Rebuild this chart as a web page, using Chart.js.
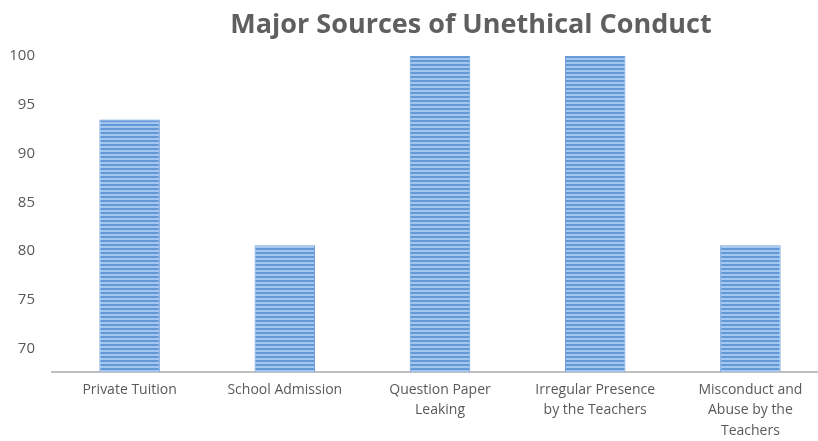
<!DOCTYPE html>
<html>
<head>
<meta charset="utf-8">
<script src="https://cdn.jsdelivr.net/npm/chart.js@4"></script>
<style>
  html, body { margin: 0; padding: 0; background: #fff; overflow: hidden; }
  #wrap { width: 830px; height: 441px; position: relative; }
</style>
</head>
<body>
<div id="wrap"><canvas id="chartSources"></canvas></div>
<script>
// chart data
const categories = [
  "Private Tuition",
  "School Admission",
  ["Question Paper", "Leaking"],
  ["Irregular Presence", "by the Teachers"],
  ["Misconduct and", "Abuse by the", "Teachers"]
];
const percentValues = [93.5, 80.6, 100, 100, 80.6];
const yTickValues = [70, 75, 80, 85, 90, 95, 100];
const chartTitle = "Major Sources of Unethical Conduct";

// striped fill like the excel picture
function stripes() {
  const c = document.createElement('canvas');
  c.width = 4; c.height = 4;
  const g = c.getContext('2d');
  g.fillStyle = '#6499d8'; g.fillRect(0, 0, 4, 2);
  g.fillStyle = '#a3c5ee'; g.fillRect(0, 2, 4, 2);
  return g.createPattern(c, 'repeat');
}

const titlePlugin = {
  id: 'titleText',
  afterDraw(chart) {
    const c = chart.ctx;
    c.save();
    c.font = 'bold 27px "Open Sans", sans-serif';
    c.fillStyle = '#5f5f5f';
    c.textAlign = 'center';
    c.textBaseline = 'alphabetic';
    c.fillText(chartTitle, 471, 33);
    c.restore();
  }
};

const ctx = document.getElementById('chartSources').getContext('2d');
const chartSources = new Chart(ctx, {
  type: 'bar',
  data: {
    labels: categories,
    datasets: [{
      data: percentValues,
      backgroundColor: stripes(),
      borderColor: '#6a9cda',
      borderWidth: 1,
      barPercentage: 0.39,
      categoryPercentage: 1
    }]
  },
  plugins: [titlePlugin],
  options: {
    responsive: true,
    maintainAspectRatio: false,
    animation: false,
    layout: { padding: { top: 56, right: 2, left: 0, bottom: 0 } },
    plugins: { legend: { display: false }, tooltip: { enabled: false }, title: { display: false } },
    scales: {
      x: {
        grid: { display: false, drawTicks: false },
        border: { display: true, color: '#bfbfbf', width: 2 },
        ticks: {
          color: '#595959',
          font: { family: '"Open Sans", sans-serif', size: 14, lineHeight: 1.45 },
          padding: 8,
          maxRotation: 0,
          autoSkip: false
        },
        afterFit(scale) { scale.height = 69; }
      },
      y: {
        min: 67.6,
        max: 100,
        grid: { display: false, drawTicks: false },
        border: { display: false },
        afterBuildTicks(scale) { scale.ticks = yTickValues.map(v => ({ value: v })); },
        ticks: {
          color: '#595959',
          font: { family: '"Open Sans", sans-serif', size: 15 },
          padding: 17
        },
        afterFit(scale) { scale.width = 52; }
      }
    }
  }
});
</script>
</body>
</html>
